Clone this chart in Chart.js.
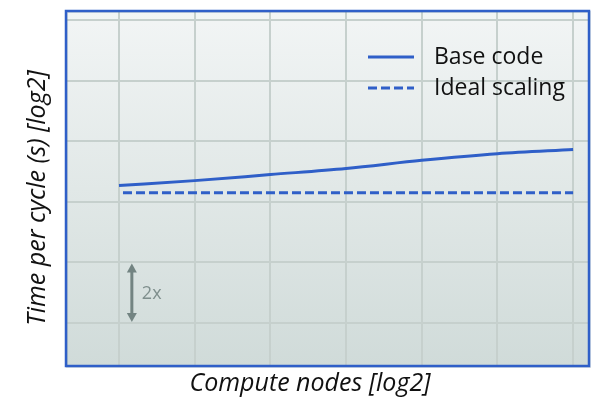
<!DOCTYPE html>
<html>
<head>
<title>Scaling chart</title>
<script src="https://cdn.jsdelivr.net/npm/chart.js@4.4.0/dist/chart.umd.min.js"></script>
<style>
body { margin:0; background:#fff; }
</style>
</head>
<body>
<div style="width:598px;height:404px;">
<canvas id="scaling"></canvas>
</div>

<script>
// x = compute nodes (log2), y = time per cycle (log2)
var nodesLog2 = [0, 1, 2, 3, 4, 5, 6];
var baseCode = [2.27, 2.35, 2.45, 2.55, 2.685, 2.795, 2.865];
var idealScaling = [2.15, 2.15, 2.15, 2.15, 2.15, 2.15, 2.15];
var yGrid = [0, 1, 2, 3, 4, 5];
var xTitle = 'Compute nodes [log2]';
var yTitle = 'Time per cycle (s) [log2]';

var blue = '#2f5fc8';

function pts(ys) {
	return nodesLog2.map(function (x, i) { return { x: x, y: ys[i] }; });
}

// background gradient + frame + legend + axis titles + "2x" marker
var decor = {
	id: 'decor',
	beforeDraw: function (chart) {
		var a = chart.chartArea, c = chart.ctx;
		var g = c.createLinearGradient(0, a.top, 0, a.bottom);
		g.addColorStop(0, '#f2f5f5');
		g.addColorStop(1, '#d0dbd9');
		c.save();
		c.fillStyle = g;
		c.fillRect(a.left, a.top, a.right - a.left, a.bottom - a.top);
		c.restore();
	},
	afterDatasetsDraw: function (chart) {
		var a = chart.chartArea, c = chart.ctx;
		var xs = chart.scales.x, ys = chart.scales.y;
		c.save();
		// 2x arrow between two grid lines
		var ax = xs.getPixelForValue(0.17);
		var y1 = ys.getPixelForValue(1) + 1, y0 = ys.getPixelForValue(0) - 1;
		c.strokeStyle = '#738482';
		c.fillStyle = '#738482';
		c.lineWidth = 3;
		c.beginPath(); c.moveTo(ax, y1 + 6); c.lineTo(ax, y0 - 6); c.stroke();
		c.beginPath(); c.moveTo(ax, y1); c.lineTo(ax - 5, y1 + 9); c.lineTo(ax + 5, y1 + 9); c.closePath(); c.fill();
		c.beginPath(); c.moveTo(ax, y0); c.lineTo(ax - 5, y0 - 9); c.lineTo(ax + 5, y0 - 9); c.closePath(); c.fill();
		c.font = '18px "Open Sans"';
		c.fillStyle = '#7f8f8d';
		c.textBaseline = 'middle';
		c.fillText('2x', ax + 10, (y0 + y1) / 2 + 1);

		// legend
		c.font = '23px "Open Sans"';
		c.fillStyle = '#111';
		chart.data.datasets.forEach(function (ds, i) {
			var ly = a.top + 46 + i * 31;
			c.strokeStyle = ds.borderColor;
			c.lineWidth = 3;
			c.setLineDash(ds.borderDash || []);
			c.lineDashOffset = 0;
			c.beginPath(); c.moveTo(a.right - 221, ly); c.lineTo(a.right - 175, ly); c.stroke();
			c.setLineDash([]);
			c.fillText(ds.label, a.right - 155, ly);
		});

		// frame
		c.strokeStyle = 'rgba(120,140,150,0.25)';
		c.lineWidth = 2;
		c.strokeRect(a.left + 1, a.top + 1, a.right - a.left, a.bottom - a.top);
		c.strokeStyle = blue;
		c.lineWidth = 2.5;
		c.strokeRect(a.left, a.top, a.right - a.left, a.bottom - a.top);

		// axis titles
		c.font = 'italic 25px "Open Sans"';
		c.fillStyle = '#111';
		c.textAlign = 'center';
		c.textBaseline = 'middle';
		c.fillText(xTitle, 310, 384);
		c.translate(38, 198);
		c.rotate(-Math.PI / 2);
		c.fillText(yTitle, 0, 0);
		c.restore();
	}
};

var ctx = document.getElementById('scaling').getContext('2d');
var chart = new Chart(ctx, {
	type: 'line',
	data: {
		datasets: [
			{
				label: 'Base code',
				data: pts(baseCode),
				borderColor: blue,
				borderWidth: 3,
				pointRadius: 0,
				cubicInterpolationMode: 'monotone'
			},
			{
				label: 'Ideal scaling',
				data: pts(idealScaling),
				borderColor: blue,
				borderWidth: 3,
				borderDash: [9, 4],
				borderDashOffset: 9,
				pointRadius: 0
			}
		]
	},
	options: {
		responsive: true,
		maintainAspectRatio: false,
		animation: false,
		layout: { padding: { left: 66, top: 11, right: 9, bottom: 38 } },
		plugins: { legend: { display: false }, tooltip: { enabled: false } },
		scales: {
			x: {
				type: 'linear',
				min: -0.7,
				max: 6.21,
				afterBuildTicks: function (s) { s.ticks = nodesLog2.map(function (v) { return { value: v }; }); },
				ticks: { display: false },
				border: { display: false },
				grid: { color: '#c6d0cd', lineWidth: 2, drawTicks: false }
			},
			y: {
				type: 'linear',
				min: -0.71,
				max: 5.15,
				afterBuildTicks: function (s) { s.ticks = yGrid.map(function (v) { return { value: v }; }); },
				ticks: { display: false },
				border: { display: false },
				grid: { color: '#c6d0cd', lineWidth: 2, drawTicks: false }
			}
		}
	},
	plugins: [decor]
});
</script>
</body>
</html>
